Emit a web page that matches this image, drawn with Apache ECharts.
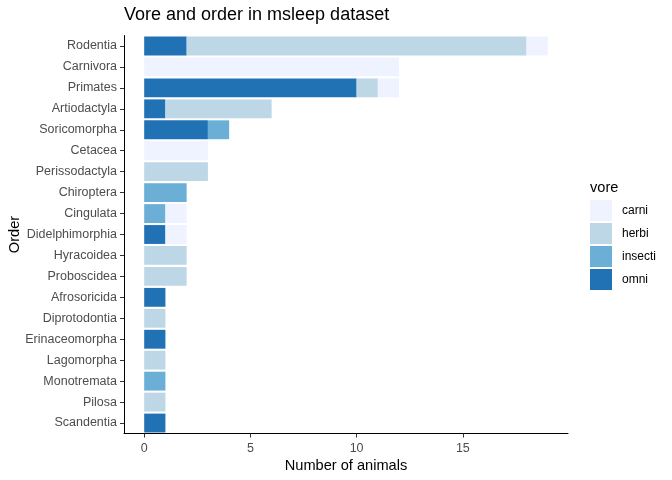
<!DOCTYPE html>
<html>
<head>
<meta charset="utf-8">
<script src="https://cdn.jsdelivr.net/npm/echarts@6/dist/echarts.min.js"></script>
<style>
    html, body { margin: 0; padding: 0; background: #fff; }
    #main { width: 672px; height: 480px; }
</style>
</head>
<body>
<div id="main"></div>
<script type="text/javascript">
    // orders, top to bottom
    var orders = ['Rodentia', 'Carnivora', 'Primates', 'Artiodactyla', 'Soricomorpha', 'Cetacea',
        'Perissodactyla', 'Chiroptera', 'Cingulata', 'Didelphimorphia', 'Hyracoidea', 'Proboscidea',
        'Afrosoricida', 'Diprotodontia', 'Erinaceomorpha', 'Lagomorpha', 'Monotremata', 'Pilosa', 'Scandentia'];
    // counts per vore, same order as above
    var omni    = [2, 0, 10, 1, 3, 0, 0, 0, 0, 1, 0, 0, 1, 0, 1, 0, 0, 0, 1];
    var insecti = [0, 0, 0, 0, 1, 0, 0, 2, 1, 0, 0, 0, 0, 0, 0, 0, 1, 0, 0];
    var herbi   = [16, 0, 1, 5, 0, 0, 3, 0, 0, 0, 2, 2, 0, 1, 0, 1, 0, 1, 0];
    var carni   = [1, 12, 1, 0, 0, 3, 0, 0, 1, 1, 0, 0, 0, 0, 0, 0, 0, 0, 0];
    var xTicks = [0, 5, 10, 15];

    var colors = {carni: '#EFF3FF', herbi: '#BDD7E7', insecti: '#6BAED6', omni: '#2171B5'};
    var font = 'Liberation Sans, Arial, sans-serif';

    function bar(name, data) {
        return {
            name: name,
            type: 'bar',
            stack: 'total',
            data: data,
            barCategoryGap: '10%',
            itemStyle: {color: colors[name]},
            emphasis: {disabled: true}
        };
    }

    var myChart = echarts.init(document.getElementById('main'));
    var option = {
        animation: false,
        textStyle: {fontFamily: font},
        title: [{
            text: 'Vore and order in msleep dataset',
            left: 124,
            top: 6,
            padding: 0,
            textStyle: {fontSize: 18, fontWeight: 'normal', color: '#000', fontFamily: font}
        }, {
            text: 'vore',
            left: 590,
            top: 180,
            padding: 0,
            textStyle: {fontSize: 14.6, fontWeight: 'normal', color: '#000', fontFamily: font}
        }],
        legend: {
            data: ['carni', 'herbi', 'insecti', 'omni'],
            orient: 'vertical',
            left: 590,
            top: 200,
            padding: 0,
            itemWidth: 22,
            itemHeight: 21,
            itemGap: 2,
            icon: 'rect',
            selectedMode: false,
            textStyle: {fontSize: 12, color: '#000', fontFamily: font, padding: [2, 0, 0, 5]}
        },
        grid: {
            left: 124,
            right: 104,
            top: 35.5,
            height: 398,
            containLabel: false,
            outerBoundsMode: 'none'
        },
        xAxis: {
            type: 'value',
            min: -0.95,
            max: 19.95,
            name: 'Number of animals',
            nameLocation: 'middle',
            nameGap: 25,
            nameMoveOverlap: false,
            nameTextStyle: {fontSize: 14.6, color: '#000', fontFamily: font},
            splitLine: {show: false},
            axisLine: {show: true, onZero: false, lineStyle: {color: '#000', width: 1}},
            axisTick: {show: true, length: 4, customValues: xTicks, lineStyle: {color: '#333'}},
            axisLabel: {customValues: xTicks, fontSize: 12.5, color: '#4D4D4D', margin: 9, fontFamily: font}
        },
        yAxis: {
            type: 'category',
            data: orders,
            inverse: true,
            name: 'Order',
            nameLocation: 'middle',
            nameGap: 102,
            nameMoveOverlap: false,
            nameRotate: 90,
            nameTextStyle: {fontSize: 14.6, color: '#000', fontFamily: font},
            axisLine: {show: true, onZero: false, lineStyle: {color: '#000', width: 1}},
            axisTick: {show: true, length: 4, alignWithLabel: true, lineStyle: {color: '#333'}},
            axisLabel: {fontSize: 12.5, color: '#4D4D4D', margin: 7, fontFamily: font}
        },
        series: [
            bar('omni', omni),
            bar('insecti', insecti),
            bar('herbi', herbi),
            bar('carni', carni)
        ]
    };
    myChart.setOption(option);
</script>
</body>
</html>
